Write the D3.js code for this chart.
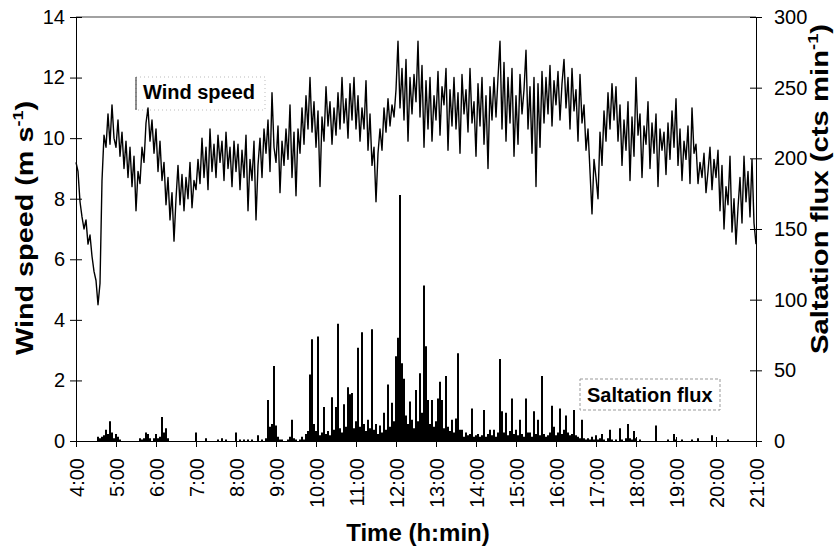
<!DOCTYPE html>
<html lang="en">

<head>
  <meta charset="UTF-8">
  <title>Wind speed and saltation flux</title>
  <script src="https://d3js.org/d3.v7.min.js"></script>
  <style>
    body {
      margin: 0;
      background: #fff;
    }

    svg {
      font-family: "Liberation Sans", Arial, sans-serif;
    }

    .tick text {
      font-size: 20px;
      fill: #000;
    }

    .domain,
    .tick line {
      stroke: #000;
    }

    .wind-line {
      fill: none;
      stroke: #000;
      stroke-width: 1.4px;
      stroke-linejoin: round;
    }

    .flux-stem {
      stroke: #000;
      stroke-width: 2px;
    }

    .axis-title {
      font-size: 24px;
      font-weight: bold;
    }

    .legend-text {
      font-size: 20px;
      font-weight: bold;
    }
  </style>
</head>

<body>
  <div id="chart"></div>

  <script>
    // tick labels
    const hourLabels = ["4:00", "5:00", "6:00", "7:00", "8:00", "9:00", "10:00", "11:00", "12:00",
      "13:00", "14:00", "15:00", "16:00", "17:00", "18:00", "19:00", "20:00", "21:00"];
    const windTicks = [0, 2, 4, 6, 8, 10, 12, 14];
    const fluxTicks = [0, 50, 100, 150, 200, 250, 300];

    // one reading every 3 minutes from 4:00 to 21:00
    const stepMin = 3;

    // wind speed (m/s)
    const windSpeed = [
      9.2, 8.9, 7.9, 7.4, 7.0, 7.3, 6.5, 6.8, 6.1, 5.6,      // 4:00
      5.3, 4.5, 5.2, 8.6, 10.1, 9.7, 10.8, 9.8, 11.1, 10.0,  // 4:30
      9.7, 10.6, 9.4, 10.2, 9.0, 9.9, 8.7, 9.7, 8.4, 9.4,    // 5:00
      7.6, 8.9, 8.5, 9.7, 9.2, 10.5, 11.0, 9.9, 10.6, 9.5,   // 5:30
      10.3, 8.9, 9.9, 8.6, 9.2, 7.8, 8.7, 7.3, 8.2, 6.6,     // 6:00
      8.0, 9.1, 7.8, 8.8, 7.6, 8.7, 8.0, 9.2, 7.7, 8.6,      // 6:30
      8.3, 9.3, 8.5, 10.0, 8.7, 9.7, 8.3, 10.3, 8.9, 9.8,    // 7:00
      8.7, 10.1, 9.2, 9.9, 8.6, 10.2, 9.0, 9.7, 8.4, 9.9,    // 7:30
      8.9, 9.8, 8.3, 9.6, 8.7, 10.1, 7.6, 9.3, 8.6, 9.9,     // 8:00
      7.3, 9.1, 10.0, 8.7, 10.3, 9.5, 10.6, 8.9, 11.5, 9.7,  // 8:30
      9.2, 10.4, 8.2, 9.9, 9.1, 10.3, 9.3, 11.1, 8.7, 10.2,  // 9:00
      8.1, 10.3, 9.5, 11.0, 9.8, 11.4, 10.3, 12.0, 10.2, 11.2, // 9:30
      9.7, 10.9, 8.4, 10.7, 9.9, 11.7, 10.4, 11.2, 9.8, 11.0,  // 10:00
      10.1, 11.5, 10.3, 12.0, 10.5, 11.3, 10.0, 11.8, 10.6, 12.0, // 10:30
      10.3, 11.4, 9.9, 11.0, 10.3, 11.9, 9.6, 10.8, 9.1, 9.7,  // 11:00
      7.9, 9.5, 10.3, 9.6, 11.0, 10.2, 11.3, 10.4, 11.1, 10.7, // 11:30
      11.6, 13.2, 11.0, 12.3, 10.6, 12.6, 9.9, 12.0, 10.8, 12.1, // 12:00
      11.2, 13.2, 10.7, 12.4, 9.7, 11.9, 10.3, 12.0, 9.9, 11.4,  // 12:30
      10.6, 12.2, 10.1, 11.7, 11.1, 12.3, 9.6, 11.6, 10.4, 12.0, // 13:00
      10.3, 11.5, 9.5, 12.1, 10.8, 11.6, 10.2, 12.3, 10.5, 11.2, // 13:30
      9.4, 11.8, 10.4, 12.0, 9.8, 11.4, 9.0, 11.7, 10.6, 12.0,   // 14:00
      10.7, 12.0, 13.2, 10.3, 12.5, 9.9, 12.0, 10.5, 12.3, 9.4,  // 14:30
      11.4, 9.8, 12.1, 10.8, 11.6, 12.9, 10.3, 11.7, 9.5, 12.0,  // 15:00
      8.4, 11.8, 9.7, 12.2, 10.5, 12.0, 10.8, 12.4, 10.4, 11.9,  // 15:30
      11.1, 12.2, 10.6, 11.8, 12.6, 11.0, 12.0, 10.3, 12.3, 10.9, // 16:00
      11.6, 9.9, 12.1, 10.5, 11.1, 9.6, 10.3, 8.9, 7.5, 9.3,     // 16:30
      8.7, 8.0, 10.2, 9.1, 10.9, 9.9, 11.5, 10.3, 11.8, 10.6,    // 17:00
      11.7, 9.9, 11.1, 9.1, 10.6, 9.6, 11.2, 8.6, 10.7, 9.4,     // 17:30
      12.0, 10.1, 10.8, 8.7, 10.4, 9.8, 11.2, 9.0, 10.5, 9.5,    // 18:00
      10.8, 8.4, 10.3, 9.6, 10.2, 8.8, 10.5, 9.3, 10.9, 9.7,     // 18:30
      11.3, 9.1, 10.3, 8.6, 9.9, 9.3, 10.4, 8.5, 11.0, 9.5,      // 19:00
      9.8, 8.5, 9.2, 8.7, 9.5, 8.2, 8.9, 9.7, 8.3, 9.3,          // 19:30
      8.7, 9.6, 7.6, 9.1, 7.0, 8.4, 7.8, 9.4, 6.9, 8.0,          // 20:00
      6.5, 7.7, 8.7, 7.2, 9.4, 7.9, 8.9, 7.4, 9.3, 7.2,          // 20:30
      6.5                                                        // 21:00
    ];

    // saltation flux (counts per minute), same time steps
    const saltFlux = [
      0, 0, 0, 0, 0, 0, 0, 0, 0, 0, 0, 3, 2, 3, 4, 8, 5, 14, 6, 2,
      5, 3, 1, 0, 0, 0, 0, 0, 0, 0, 0, 0, 2, 1, 2, 6, 5, 2, 0, 2,
      5, 2, 3, 17, 6, 9, 2, 0, 0, 0, 0, 0, 0, 0, 0, 0, 0, 0, 0, 0,
      6, 0, 0, 0, 0, 2, 0, 0, 0, 0, 0, 1, 0, 2, 0, 1, 0, 0, 0, 0,
      6, 0, 1, 0, 1, 0, 1, 0, 1, 0, 0, 4, 0, 1, 0, 2, 29, 10, 12, 53,
      11, 3, 1, 1, 0, 0, 1, 3, 15, 2, 1, 0, 1, 3, 1, 5, 7, 47, 72, 12,
      7, 74, 4, 6, 24, 5, 7, 4, 31, 8, 24, 83, 9, 6, 26, 10, 38, 33, 34, 9,
      14, 66, 10, 77, 12, 7, 15, 9, 79, 8, 12, 5, 11, 6, 20, 8, 40, 10, 27, 14,
      60, 73, 174, 55, 44, 18, 12, 28, 15, 9, 36, 14, 48, 20, 110, 67, 29, 12, 29, 10,
      14, 30, 42, 29, 9, 46, 10, 7, 15, 6, 16, 62, 8, 8, 3, 6, 4, 5, 23, 3,
      4, 5, 3, 4, 22, 3, 5, 8, 4, 8, 3, 6, 58, 21, 6, 20, 4, 7, 30, 5,
      8, 4, 15, 5, 3, 30, 6, 6, 3, 21, 5, 15, 4, 46, 5, 3, 4, 6, 25, 10,
      4, 6, 23, 5, 8, 18, 6, 4, 5, 22, 4, 3, 2, 15, 2, 1, 2, 1, 3, 1,
      4, 1, 2, 5, 1, 0, 2, 8, 1, 0, 1, 0, 9, 1, 0, 2, 12, 2, 1, 7,
      2, 0, 1, 0, 0, 0, 0, 0, 0, 0, 11, 0, 0, 0, 0, 0, 1, 0, 0, 5,
      1, 0, 0, 1, 0, 0, 0, 0, 1, 0, 0, 2, 0, 0, 0, 0, 0, 0, 4, 0,
      0, 0, 0, 0, 0, 0, 1, 0, 0, 0, 0, 0, 0, 0, 0, 0, 0, 0, 0, 0, 0
    ];

    const fullWidth = 837, fullHeight = 555;
    const margin = { top: 17, right: 81, bottom: 114, left: 76 };
    const width = fullWidth - margin.left - margin.right;
    const height = fullHeight - margin.top - margin.bottom;

    const root = d3.select("#chart")
      .append("svg")
      .attr("width", fullWidth)
      .attr("height", fullHeight);

    const svg = root.append("g")
      .attr("transform", `translate(${margin.left},${margin.top})`);

    // Scales
    const x = d3.scaleLinear()
      .domain([0, (hourLabels.length - 1) * 60])
      .range([0, width]);

    const yWind = d3.scaleLinear()
      .domain([0, 14])
      .range([height, 0]);

    const yFlux = d3.scaleLinear()
      .domain([0, 300])
      .range([height, 0]);

    // Top frame line
    svg.append("line")
      .attr("x1", 0).attr("x2", width)
      .attr("y1", 0).attr("y2", 0)
      .attr("stroke", "#444")
      .attr("stroke-width", 1.2);

    // Saltation flux as thin spikes up from zero
    const fluxData = saltFlux.map((v, i) => ({ t: i * stepMin, v: v }))
      .filter(d => d.v > 0);

    svg.append("g")
      .selectAll(".flux-stem")
      .data(fluxData)
      .join("line")
      .attr("class", "flux-stem")
      .attr("x1", d => x(d.t))
      .attr("x2", d => x(d.t))
      .attr("y1", yFlux(0))
      .attr("y2", d => yFlux(d.v));

    // Wind speed line
    const windLine = d3.line()
      .x((d, i) => x(i * stepMin))
      .y(d => yWind(d));

    svg.append("path")
      .datum(windSpeed)
      .attr("class", "wind-line")
      .attr("d", windLine);

    // X axis
    const xAxis = svg.append("g")
      .attr("transform", `translate(0,${height})`)
      .call(d3.axisBottom(x)
        .tickValues(hourLabels.map((d, i) => i * 60))
        .tickFormat((d, i) => hourLabels[i])
        .tickSizeOuter(0));

    xAxis.selectAll(".tick line").attr("y1", -4).attr("y2", 6);
    xAxis.selectAll(".tick text")
      .attr("transform", "rotate(-90)")
      .attr("x", -17)
      .attr("y", 0)
      .attr("dy", "0.36em")
      .attr("text-anchor", "end");

    // Left axis
    const leftAxis = svg.append("g")
      .call(d3.axisLeft(yWind).tickValues(windTicks).tickSizeOuter(0));

    leftAxis.selectAll(".tick line").attr("x1", -6).attr("x2", 6);
    leftAxis.selectAll(".tick text").attr("x", -11);

    // Right axis
    const rightAxis = svg.append("g")
      .attr("transform", `translate(${width},0)`)
      .call(d3.axisRight(yFlux).tickValues(fluxTicks).tickSizeOuter(0));

    rightAxis.selectAll(".tick line").attr("x1", -6).attr("x2", 6);
    rightAxis.selectAll(".tick text").attr("x", 18);

    // Axis titles (stretched along their length like the original)
    const leftTitle = root.append("text")
      .attr("class", "axis-title")
      .attr("transform", "translate(33,228) rotate(-90) scale(1.2,1)")
      .attr("text-anchor", "middle");
    leftTitle.append("tspan").text("Wind speed (m s");
    leftTitle.append("tspan").attr("font-size", "15px").attr("dy", -10).text("-1");
    leftTitle.append("tspan").attr("dy", 10).text(")");

    const rightTitle = root.append("text")
      .attr("class", "axis-title")
      .attr("transform", "translate(828,189) rotate(-90) scale(1.22,1)")
      .attr("text-anchor", "middle");
    rightTitle.append("tspan").text("Saltation flux (cts min");
    rightTitle.append("tspan").attr("font-size", "15px").attr("dy", -10).text("-1");
    rightTitle.append("tspan").attr("dy", 10).text(")");

    root.append("text")
      .attr("class", "axis-title")
      .attr("x", 418)
      .attr("y", 541)
      .attr("text-anchor", "middle")
      .text("Time (h:min)");

    // Legend boxes
    const windBox = root.append("g");
    windBox.append("rect")
      .attr("x", 136).attr("y", 77)
      .attr("width", 129).attr("height", 33)
      .attr("fill", "none")
      .attr("stroke", "#bbb")
      .attr("stroke-dasharray", "1,3");
    windBox.append("line")
      .attr("x1", 136).attr("x2", 136)
      .attr("y1", 77).attr("y2", 110)
      .attr("stroke", "#222");
    windBox.append("text")
      .attr("class", "legend-text")
      .attr("x", 143).attr("y", 99)
      .text("Wind speed");

    const fluxBox = root.append("g");
    fluxBox.append("rect")
      .attr("x", 580).attr("y", 379)
      .attr("width", 140).attr("height", 31)
      .attr("fill", "none")
      .attr("stroke", "#999")
      .attr("stroke-dasharray", "3,2");
    fluxBox.append("text")
      .attr("class", "legend-text")
      .attr("x", 587).attr("y", 402)
      .text("Saltation flux");
  </script>
</body>

</html>
